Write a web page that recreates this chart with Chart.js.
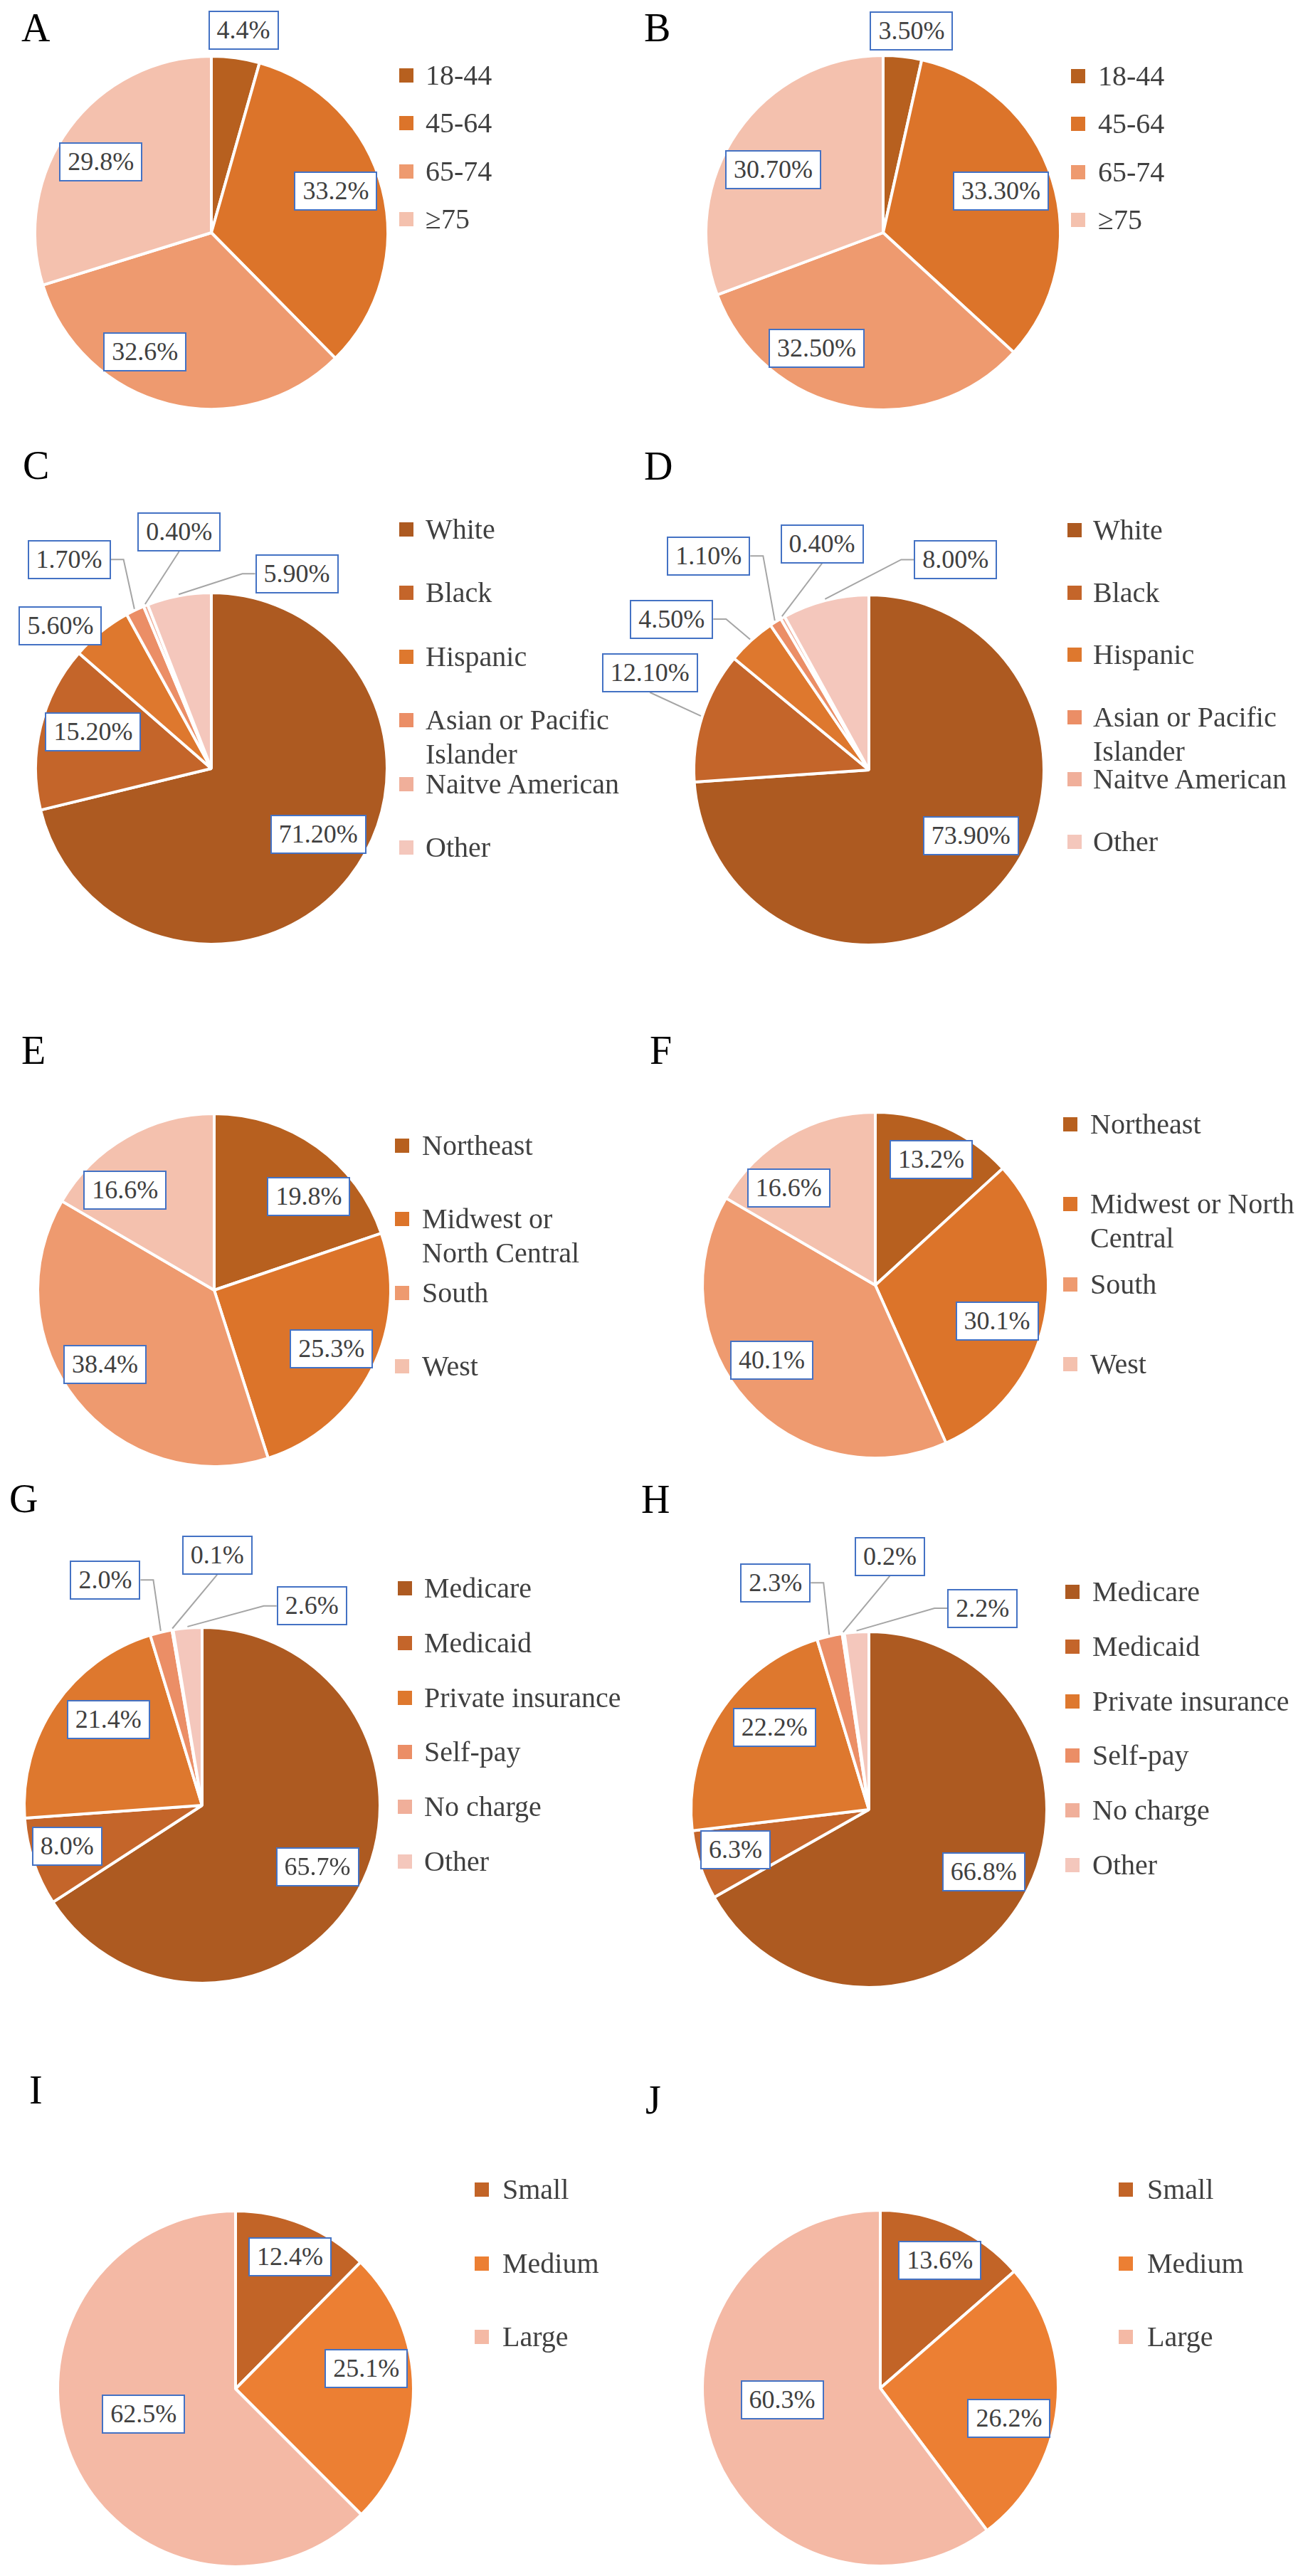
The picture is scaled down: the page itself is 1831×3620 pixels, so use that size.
<!DOCTYPE html>
<html>
<head>
<meta charset="utf-8">
<script src="https://cdn.jsdelivr.net/npm/chart.js@4.4.1/dist/chart.umd.min.js"></script>
<style>
html,body{margin:0;padding:0;background:#fff;}
body{width:1831px;height:3620px;position:relative;overflow:hidden;font-family:"Liberation Serif","Times New Roman",Times,serif;}
#charts,#texts{position:absolute;left:0;top:0;width:1831px;height:3620px;}
canvas{position:absolute;}
.letter{position:absolute;font-size:56px;line-height:56px;color:#000;white-space:nowrap;}
.lbl{position:absolute;box-sizing:border-box;height:55px;border:2px solid #4472C4;background:#fff;color:#404040;font-size:36px;line-height:51px;padding:0 10px;white-space:nowrap;}
.itm{position:absolute;color:#404040;font-size:40px;line-height:48px;}
.sq{position:absolute;width:20px;height:20px;}
</style>
</head>
<body>
<div id="charts"></div>
<div id="texts"></div>
<script>
// ---------------- data ----------------
const ageCats = ["18-44", "45-64", "65-74", "\u226575"];
const ageA = [4.4, 33.2, 32.6, 29.8];
const ageB = [3.5, 33.3, 32.5, 30.7];

const raceCats = ["White", "Black", "Hispanic", "Asian or Pacific Islander", "Naitve American", "Other"];
const raceC = [71.2, 15.2, 5.6, 1.7, 0.4, 5.9];
const raceD = [73.9, 12.1, 4.5, 1.1, 0.4, 8.0];

const regionCats = ["Northeast", "Midwest or North Central", "South", "West"];
const regionE = [19.8, 25.3, 38.4, 16.6];
const regionF = [13.2, 30.1, 40.1, 16.6];

const payerCats = ["Medicare", "Medicaid", "Private insurance", "Self-pay", "No charge", "Other"];
const payerG = [65.7, 8.0, 21.4, 2.0, 0.1, 2.6];
const payerH = [66.8, 6.3, 22.2, 2.3, 0.2, 2.2];

const sizeCats = ["Small", "Medium", "Large"];
const sizeI = [12.4, 25.1, 62.5];
const sizeJ = [13.6, 26.2, 60.3];

// ---------------- styles ----------------
const pal4 = ["#B7601F", "#DC742A", "#EE9A6F", "#F4C1AE"];
const pal6 = ["#AD5A21", "#C4652A", "#DE782E", "#EB8E66", "#F0AF9A", "#F4C7BC"];
const pal3 = ["#C26427", "#EC7F33", "#F4B9A5"];

// layout: pie centre / radius, panel letter, legend, label placement [angle shift deg, radius factor, leader]
const panels = [
  {id:"A", cats:ageCats, vals:ageA, dec:1, col:pal4, cx:297, cy:327, r:246, lx:30, lb:58,
   leg:{sx:561, tx:598, y0:106, step:67.3, w:320},
   lab:[[1.1,1.17,0],[-4.1,0.75,0],[15,0.78,0],[-3.7,0.75,0]]},
  {id:"B", cats:ageCats, vals:ageB, dec:2, col:pal4, cx:1241, cy:327, r:247, lx:905, lb:58,
   leg:{sx:1505, tx:1543, y0:107, step:67.3, w:280},
   lab:[[1.7,1.16,0],[-1.9,0.71,0],[18.9,0.76,0],[-5,0.72,0]]},
  {id:"C", cats:raceCats, vals:raceC, dec:2, col:pal6, cx:297, cy:1080, r:245, lx:32, lb:673,
   leg:{sx:561, tx:598, y0:744, step:89.4, w:300},
   lab:[[-6.6,0.72,0],[3.6,0.71,0],[-7.8,1.19,0],[-8.5,1.45,1],[14.2,1.37,1],[34.3,1.22,1]]},
  {id:"D", cats:raceCats, vals:raceD, dec:2, col:pal6, cx:1221, cy:1082, r:244, lx:905, lb:674,
   leg:{sx:1500, tx:1536, y0:745, step:87.6, w:290},
   lab:[[-10.1,0.70,0],[6.1,1.38,1],[-10.3,1.43,1],[-4.6,1.54,1],[17.8,1.33,1],[36.8,1.31,1]]},
  {id:"E", cats:regionCats, vals:regionE, dec:1, col:pal4, cx:301, cy:1813, r:246, lx:30, lb:1495,
   leg:{sx:555, tx:593, y0:1610, step:103.3, w:285},
   lab:[[9.7,0.76,0],[0,0.75,0],[4.5,0.755,0],[-11.8,0.766,0]]},
  {id:"F", cats:regionCats, vals:regionF, dec:1, col:pal4, cx:1230, cy:1806, r:241, lx:913, lb:1495,
   leg:{sx:1494, tx:1532, y0:1580, step:112.3, w:300},
   lab:[[0.3,0.80,0],[4.7,0.74,0],[6.1,0.745,0],[-11.8,0.76,0]]},
  {id:"G", cats:payerCats, vals:payerG, dec:1, col:pal6, cx:284, cy:2537, r:248, lx:13, lb:2125,
   leg:{sx:559, tx:596, y0:2232, step:76.8, w:300},
   lab:[[-0.5,0.74,0],[1.7,0.80,0],[8.0,0.72,0],[-9.9,1.39,1],[13.0,1.42,1],[33.5,1.29,1]]},
  {id:"H", cats:payerCats, vals:payerH, dec:1, col:pal6, cx:1221, cy:2543, r:248, lx:901, lb:2126,
   leg:{sx:1497, tx:1535, y0:2237, step:76.8, w:300},
   lab:[[-1.7,0.74,0],[1.3,0.79,0],[8.0,0.71,0],[-9.6,1.39,1],[13.0,1.44,1],[33.4,1.31,1]]},
  {id:"I", cats:sizeCats, vals:sizeI, dec:1, col:pal3, cx:331, cy:3357, r:248, lx:41, lb:2956,
   leg:{sx:667, tx:706, y0:3077, step:103.5, w:220},
   lab:[[0.1,0.81,0],[-8.5,0.75,0],[7.2,0.54,0]]},
  {id:"J", cats:sizeCats, vals:sizeJ, dec:1, col:pal3, cx:1237, cy:3356, r:248, lx:907, lb:2970,
   leg:{sx:1572, tx:1612, y0:3077, step:103.5, w:210},
   lab:[[0.5,0.80,0],[7.3,0.75,0],[11.6,0.56,0]]}
];

const S = 450; // half size of each chart canvas
const chartsEl = document.getElementById("charts");
const textsEl = document.getElementById("texts");

function el(tag, cls, parent) {
  const e = document.createElement(tag);
  if (cls) e.className = cls;
  parent.appendChild(e);
  return e;
}

function drawLeader(ctx, box, P) {
  const cx = box.l + box.w / 2, cy = box.t + box.h / 2;
  ctx.save();
  ctx.beginPath();
  if (Math.abs(P.x - cx) <= box.w / 2 + 20) {
    const yb = P.y > cy ? box.t + box.h : box.t;
    ctx.moveTo(cx, yb);
    ctx.lineTo(P.x, P.y);
  } else if (P.x > cx) {
    const x0 = box.l + box.w;
    ctx.moveTo(x0, cy); ctx.lineTo(x0 + 18, cy); ctx.lineTo(P.x, P.y);
  } else {
    ctx.moveTo(box.l, cy); ctx.lineTo(box.l - 18, cy); ctx.lineTo(P.x, P.y);
  }
  ctx.strokeStyle = "#A5A5A5";
  ctx.lineWidth = 2;
  ctx.stroke();
  ctx.restore();
}

panels.forEach(p => {
  // panel letter
  const L = el("div", "letter", textsEl);
  L.textContent = p.id;
  L.style.left = p.lx + "px";
  L.style.top = (p.lb - 0.8375 * 56) + "px";

  // legend
  p.cats.forEach((c, i) => {
    const yc = p.leg.y0 + i * p.leg.step;
    const sq = el("div", "sq", textsEl);
    sq.style.left = p.leg.sx + "px";
    sq.style.top = (yc - 10) + "px";
    sq.style.background = p.col[i];
    const t = el("div", "itm", textsEl);
    t.textContent = c;
    t.style.left = p.leg.tx + "px";
    t.style.top = (yc - 24) + "px";
    t.style.width = p.leg.w + "px";
  });

  // data label boxes (positioned after the chart lays out its arcs)
  const divs = p.vals.map(v => {
    const d = el("div", "lbl", textsEl);
    d.textContent = v.toFixed(p.dec) + "%";
    return d;
  });

  const cv = el("canvas", "", chartsEl);
  cv.width = 2 * S; cv.height = 2 * S;
  cv.style.width = 2 * S + "px"; cv.style.height = 2 * S + "px";
  const offL = p.cx - S, offT = p.cy - S;
  cv.style.left = offL + "px";
  cv.style.top = offT + "px";

  const labelPlugin = {
    id: "boxLabels" + p.id,
    afterDraw(chart) {
      const meta = chart.getDatasetMeta(0);
      const ctx = chart.ctx;
      meta.data.forEach((arc, i) => {
        const pr = arc.getProps(["x", "y", "startAngle", "endAngle", "outerRadius"], true);
        const mid = (pr.startAngle + pr.endAngle) / 2;
        const r = pr.outerRadius - 2;
        const [dDeg, f, leader] = p.lab[i];
        const a = mid + dDeg * Math.PI / 180;
        const lx = pr.x + f * r * Math.cos(a);
        const ly = pr.y + f * r * Math.sin(a);
        const d = divs[i];
        const w = d.offsetWidth, h = d.offsetHeight;
        d.style.left = (offL + lx - w / 2) + "px";
        d.style.top = (offT + ly - h / 2) + "px";
        if (leader) {
          const P = {x: pr.x + (r + 4) * Math.cos(mid), y: pr.y + (r + 4) * Math.sin(mid)};
          drawLeader(ctx, {l: lx - w / 2, t: ly - h / 2, w: w, h: h}, P);
        }
      });
    }
  };

  new Chart(cv, {
    type: "pie",
    data: {
      labels: p.cats,
      datasets: [{
        data: p.vals,
        backgroundColor: p.col,
        borderColor: "#FFFFFF",
        borderWidth: 4,
        radius: p.r + 2,
        hoverOffset: 0,
        clip: false
      }]
    },
    options: {
      responsive: false,
      animation: false,
      events: [],
      layout: {padding: 0},
      plugins: {legend: {display: false}, tooltip: {enabled: false}}
    },
    plugins: [labelPlugin]
  });
});
</script>
</body>
</html>
